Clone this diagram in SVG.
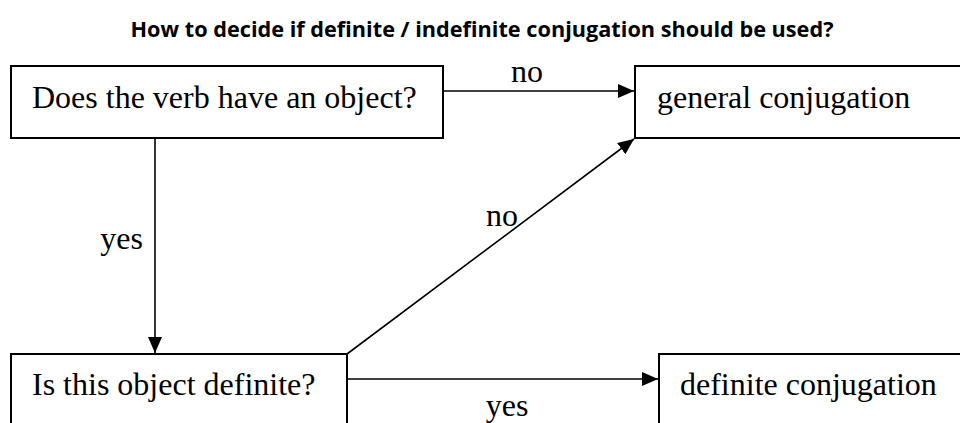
<svg xmlns="http://www.w3.org/2000/svg" width="960" height="423" viewBox="0 0 960 423">
<defs>
<style>
.box{fill:#fff;stroke:#000;stroke-width:2}
.t{font-family:"Liberation Serif","Times New Roman",serif;font-size:32px;fill:#000}
.e{stroke:#000;stroke-width:1.6;fill:none}
.title{font-family:"Open Sans","Liberation Sans",sans-serif;font-weight:bold;font-size:21px;fill:#000}
</style>
<marker id="ah" viewBox="0 0 16 14" refX="16" refY="7" markerWidth="16" markerHeight="14" markerUnits="userSpaceOnUse" orient="auto">
<path d="M0,0 L16,7 L0,14 Z" fill="#000"/>
</marker>
</defs>
<rect width="960" height="423" fill="#fff"/>
<text class="title" x="482" y="37" text-anchor="middle" textLength="703" lengthAdjust="spacingAndGlyphs">How to decide if definite / indefinite conjugation should be used?</text>
<g id="n1"><rect class="box" x="11" y="66" width="432" height="72"/><text class="t" x="32" y="108">Does the verb have an object?</text></g>
<g id="n2"><rect class="box" x="635" y="66" width="340" height="72"/><text class="t" x="657" y="108">general conjugation</text></g>
<g id="n3"><rect class="box" x="11" y="354" width="336" height="80"/><text class="t" x="32" y="395">Is this object definite?</text></g>
<g id="n4"><rect class="box" x="659" y="354" width="320" height="80"/><text class="t" x="680" y="395">definite conjugation</text></g>
<g id="edges">
<path class="e" d="M443,91 L634,91" marker-end="url(#ah)"/>
<path class="e" d="M155,138 L155,353" marker-end="url(#ah)"/>
<path class="e" d="M347,354 L634,139" marker-end="url(#ah)"/>
<path class="e" d="M347,379 L658,379" marker-end="url(#ah)"/>
<text class="t" x="527" y="82" text-anchor="middle">no</text>
<text class="t" x="143" y="249" text-anchor="end">yes</text>
<text class="t" x="502" y="226" text-anchor="middle">no</text>
<text class="t" x="507" y="416" text-anchor="middle">yes</text>
</g>
</svg>
